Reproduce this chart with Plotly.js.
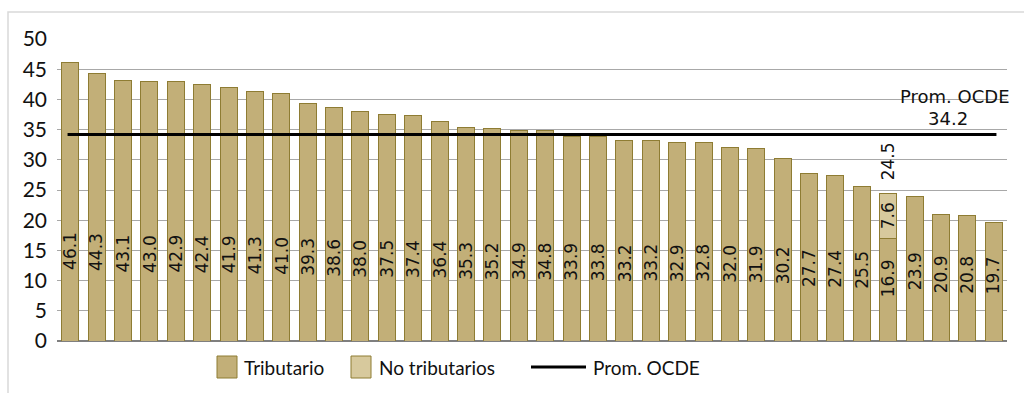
<!DOCTYPE html>
<html>
<head>
<meta charset="utf-8">
<script src="https://cdn.plot.ly/plotly-3.0.1.min.js"></script>
<style>
  html, body { margin: 0; padding: 0; background: #ffffff; }
  #chart { width: 1024px; height: 393px; }
</style>
</head>
<body>
<div id="chart"></div>
<script>
// Recaudación como % del PIB, ordenada de mayor a menor
const tributario = [46.1, 44.3, 43.1, 43.0, 42.9, 42.4, 41.9, 41.3, 41.0, 39.3, 38.6, 38.0,
  37.5, 37.4, 36.4, 35.3, 35.2, 34.9, 34.8, 33.9, 33.8, 33.2, 33.2, 32.9, 32.8, 32.0, 31.9,
  30.2, 27.7, 27.4, 25.5, 16.9, 23.9, 20.9, 20.8, 19.7];
// Ingresos no tributarios (sólo un país los reporta)
const noTributarios = [null, null, null, null, null, null, null, null, null, null, null, null,
  null, null, null, null, null, null, null, null, null, null, null, null, null, null, null,
  null, null, null, null, 7.6, null, null, null, null];
const promOCDE = 34.2;
const seriesNames = ['Tributario', 'No tributarios', 'Prom. OCDE'];

const n = tributario.length;
const xs = tributario.map((_, i) => i);

const cTrib = '#C2AF78';
const cNoTrib = '#D7C99D';
const cBorder = '#8E7C33';
const labelFont = { family: 'DejaVu Sans, sans-serif', size: 17, color: '#111111' };
const legendFont = { family: 'Lato, sans-serif', size: 19, color: '#111111' };

// plot area geometry (pixels) used to place the legend in paper units
const W = 1024, H = 393;
const M = { l: 57, r: 17, t: 39, b: 52 };
const pw = W - M.l - M.r, ph = H - M.t - M.b;
const px = v => (v - M.l) / pw;
const py = v => (H - M.b - v) / ph;

const traces = [
  {
    type: 'bar', name: seriesNames[0], x: xs, y: tributario,
    marker: { color: cTrib, line: { color: cBorder, width: 1 } },
    hoverinfo: 'y'
  },
  {
    type: 'bar', name: seriesNames[1], x: xs, y: noTributarios,
    marker: { color: cNoTrib, line: { color: cBorder, width: 1 } },
    hoverinfo: 'y'
  },
  {
    type: 'scatter', mode: 'lines', name: seriesNames[2],
    x: [-0.1, n - 1 + 0.1], y: [promOCDE, promOCDE],
    line: { color: '#000000', width: 3 }, hoverinfo: 'y'
  }
];

const annotations = [];
// rotated value labels inside the main bars
tributario.forEach((v, i) => {
  annotations.push({
    x: i, y: 0.155 * v + 7.8, xref: 'x', yref: 'y',
    text: v.toFixed(1), textangle: -90, showarrow: false,
    font: labelFont, xanchor: 'center', yanchor: 'middle'
  });
});
// labels for the stacked segment and its total
noTributarios.forEach((v, i) => {
  if (v == null) return;
  const base = tributario[i];
  annotations.push({
    x: i, y: base + v / 2, xref: 'x', yref: 'y',
    text: v.toFixed(1), textangle: -90, showarrow: false,
    font: labelFont, xanchor: 'center', yanchor: 'middle'
  });
  annotations.push({
    x: i, y: base + v, xref: 'x', yref: 'y', yshift: 11,
    text: (base + v).toFixed(1), textangle: -90, showarrow: false,
    font: labelFont, xanchor: 'center', yanchor: 'bottom'
  });
});
// average label, name above value
const avgFont = { family: 'DejaVu Sans, sans-serif', size: 18, color: '#111111' };
annotations.push({
  x: 33.53, y: promOCDE, xref: 'x', yref: 'y', yshift: 25,
  text: seriesNames[2], showarrow: false, font: avgFont,
  xanchor: 'center', yanchor: 'bottom'
});
annotations.push({
  x: 33.53, y: promOCDE, xref: 'x', yref: 'y', yshift: 3, xshift: -7,
  text: promOCDE.toFixed(1), showarrow: false, font: avgFont,
  xanchor: 'center', yanchor: 'bottom'
});

// legend drawn with shapes and text so the swatches keep their size
const legendY = 367;
const shapes = [{
  type: 'rect', xref: 'paper', yref: 'paper',
  x0: px(8), x1: px(1040), y0: py(400), y1: py(12),
  line: { color: '#D9D9D9', width: 1.5 }, fillcolor: 'rgba(0,0,0,0)', layer: 'below'
}];
const legendItems = [
  { kind: 'box', color: cTrib, x0: 217, x1: 237, tx: 242 },
  { kind: 'box', color: cNoTrib, x0: 351, x1: 371, tx: 377 },
  { kind: 'line', color: '#000000', x0: 531, x1: 586, tx: 591 }
];
legendItems.forEach((it, k) => {
  if (it.kind === 'box') {
    shapes.push({
      type: 'rect', xref: 'paper', yref: 'paper',
      x0: px(it.x0), x1: px(it.x1), y0: py(legendY + 11), y1: py(legendY - 11),
      fillcolor: it.color, line: { color: cBorder, width: 1 }
    });
  } else {
    shapes.push({
      type: 'line', xref: 'paper', yref: 'paper',
      x0: px(it.x0), x1: px(it.x1), y0: py(legendY), y1: py(legendY),
      line: { color: it.color, width: 3 }
    });
  }
  annotations.push({
    xref: 'paper', yref: 'paper', x: px(it.tx), y: py(legendY),
    text: seriesNames[k], showarrow: false, font: legendFont,
    xanchor: 'left', yanchor: 'middle'
  });
});

const layout = {
  width: W, height: H,
  margin: Object.assign({ autoexpand: false }, M),
  paper_bgcolor: '#ffffff', plot_bgcolor: '#ffffff',
  barmode: 'stack', bargap: 0.356,
  font: { family: 'Lato, sans-serif', size: 19, color: '#111111' },
  xaxis: {
    range: [-0.5, n - 0.5], showticklabels: false, ticks: '',
    showgrid: false, zeroline: false, showline: false
  },
  yaxis: {
    range: [0, 50], dtick: 5, tick0: 0, showgrid: true,
    gridcolor: '#A8A8A8', gridwidth: 1,
    zeroline: true, zerolinecolor: '#7F7F7F', zerolinewidth: 2,
    showline: false, ticks: '', ticklabelstandoff: 9,
    tickfont: { family: 'Lato, sans-serif', size: 21, color: '#111111' }
  },
  showlegend: false,
  shapes: shapes,
  annotations: annotations
};

Plotly.newPlot('chart', traces, layout, { displayModeBar: false, staticPlot: true });
</script>
</body>
</html>
